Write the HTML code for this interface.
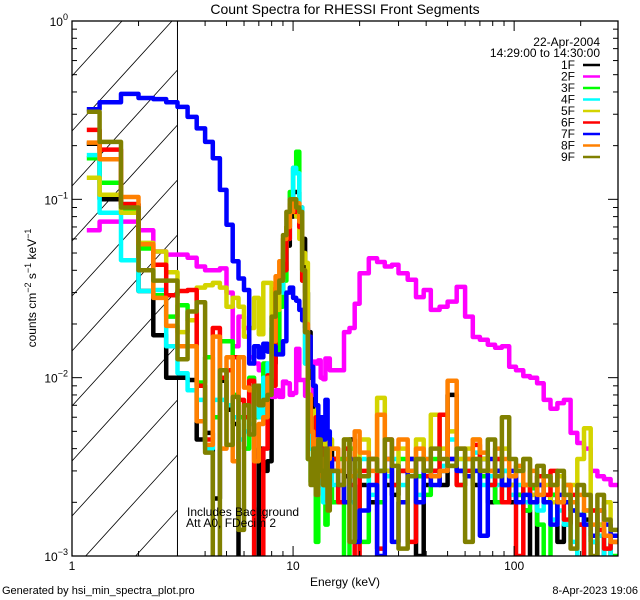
<!DOCTYPE html>
<html><head><meta charset="utf-8"><style>
html,body{margin:0;padding:0;background:#fff;overflow:hidden;width:640px;height:600px;}
svg{display:block;font-family:"Liberation Sans",sans-serif;}
</style></head><body>
<svg id="chart" width="640" height="600" viewBox="0 0 640 600" xmlns="http://www.w3.org/2000/svg">
<rect width="640" height="600" fill="#fff"/>
<defs><clipPath id="pc"><rect x="72" y="21" width="546" height="535"/></clipPath></defs>
<text x="345" y="14" font-size="14" text-anchor="middle">Count Spectra for RHESSI Front Segments</text>
<g id="hatch" clip-path="url(#pc)"></g>
<g id="series" clip-path="url(#pc)"></g>
<g id="axes"></g>
<text x="600" y="46" font-size="12" text-anchor="end">22-Apr-2004</text>
<text x="600" y="57" font-size="12" text-anchor="end">14:29:00 to 14:30:00</text>
<g id="legend"></g>
<text x="187" y="516" font-size="12">Includes Background</text>
<text x="186" y="527" font-size="12">Att A0, FDecim 2</text>
<text x="345" y="586" font-size="12" text-anchor="middle">Energy (keV)</text>
<text transform="translate(36,288) rotate(-90)" font-size="12" text-anchor="middle">counts cm<tspan dy="-5" font-size="9">−2</tspan><tspan dy="5"> s</tspan><tspan dy="-5" font-size="9">−1</tspan><tspan dy="5"> keV</tspan><tspan dy="-5" font-size="9">−1</tspan></text>
<text x="2" y="594" font-size="11">Generated by hsi_min_spectra_plot.pro</text>
<text x="638" y="594" font-size="11" text-anchor="end">8-Apr-2023 19:06</text>
</svg>
<script>
const edges=[1.1667,1.3333,1.6667,2,2.3333,2.6667,3,3.3333,3.6667,4,4.3333,4.6667,5,5.3333,5.6667,6,6.3333,6.6667,7,7.3333,7.6667,8,8.3333,8.6667,9,9.3333,9.6667,10,10.3333,10.6667,11,11.3333,11.6667,12,12.3333,12.6667,13,13.3333,13.6667,14,14.3333,14.6667,15,16,17,18,19,20,22,24,26,28,30,33,36,39,42,46,50,55,60,65,70,76,82,88,95,102,110,118,127,136,146,157,168,180,193,207,222,238,255,273,295];
const seriesNames=["1F","2F","3F","4F","5F","6F","7F","8F","9F"];
const seriesColors=["#000000","#ff00ff","#00ff00","#00ffff","#d4d400","#ff0000","#0000ff","#ff8000","#808000"];
const s1F=[.205,.10,.094,.0306,.0173,.010,.010,.0097,.0045,.0049,.0021,.0096,.0066,.0055,0,0,.0008,0,.004,.003,.0034,.012,.016,.030,.040,.055,.080,.11,.11,.09,.06,.03,.018,.010,.006,.004,.005,.003,.0045,.0025,.003,.004,
.0035,.002,.0028,.0045,.0012,.0025,.002,.003,.0025,.0022,.003,.0035,.001,.0025,.003,.0025,.008,.003,.0028,.0025,.0035,.002,.003,.0025,.002,.0022,.0018,.0008,.0025,.002,.0022,.0012,.0015,.002,.0015,.0016,.0012,.0009,.0013,.0008];
const s2F=[.067,.075,.075,.067,.051,.049,.049,.047,.042,.040,.040,.041,.030,.015,.022,.019,.013,.012,.011,.011,.010,.0078,.0085,.0078,.0095,.0093,.0080,.0082,.0145,.0097,.0097,.0079,.0078,.0080,.0123,.0120,.0125,.0100,.0098,.0128,.0128,.011,
.011,.011,.018,.019,.026,.0385,.0467,.0445,.042,.043,.0385,.0354,.0283,.031,.024,.025,.0267,.0323,.022,.0169,.0163,.0153,.0147,.015,.0115,.011,.0102,.0100,.0093,.0075,.0067,.0072,.0075,.0049,.0043,.004,.0030,.0028,.0027,.0025];
const s3F=[.17,.124,.088,.053,.029,.022,.0255,.021,.0094,.013,.006,.016,.016,.008,.006,.004,.010,.006,.009,.012,.010,.019,.014,.025,.035,.070,.11,.15,.185,.08,.035,.012,.0035,.0026,.0045,.0012,.0035,.0025,.003,.0015,.0035,.0025,
.002,.0035,.0009,.004,.003,.0012,.0035,.002,.003,.0025,.0035,.003,.0028,.0022,.0035,.003,.0032,.0025,.0035,.003,.0028,.0025,.002,.003,.0025,.0022,.0018,.0024,.0015,.0008,.0022,.002,.0025,.0018,.0009,.0018,.0012,.0015,.0011,.001];
const s4F=[.177,.084,.0456,.0306,.031,.015,.0106,.0085,.0075,.004,.0075,.0075,.007,.006,.0045,.005,.0055,.008,.006,.010,.012,.02,.025,.03,.045,.06,.10,.15,.14,.09,.04,.012,.006,.004,.0035,.003,.0025,.003,.002,.0028,.002,.003,
.0025,.003,.0035,.002,.0028,.0035,.0022,.003,.0028,.0035,.0025,.003,.0022,.0035,.0028,.0032,.0045,.0035,.003,.0038,.0025,.0028,.0025,.003,.0022,.0025,.002,.0022,.0018,.002,.0016,.0018,.0015,.0012,.0008,.0015,.0012,.0013,.0009,.0012];
const s5F=[.132,.106,.084,.057,.051,.039,.018,.021,.032,.033,.034,.032,.025,.028,.025,.017,.019,.028,.0175,.034,.034,.020,.024,.035,.05,.07,.09,.09,.08,.06,.05,.044,.006,.005,.0065,.003,.004,.0035,.005,.003,.004,.0045,
.004,.003,.0045,.0035,.003,.0045,.0035,.0077,.003,.0025,.004,.0035,.0045,.003,.0062,.004,.005,.0035,.004,.0045,.0035,.003,.0035,.004,.0025,.003,.0035,.0022,.0028,.0025,.002,.0028,.0022,.0025,.0035,.0052,.0018,.0015,.002,.0013];
const s6F=[.245,.19,.094,.056,.043,.029,.0306,.031,.009,.0045,.019,.010,.011,.013,.0075,.006,.0096,.0005,.0005,.004,.0103,.009,.032,.036,.04,.06,.094,.085,.09,.07,.035,.018,.008,.005,.0045,.006,.003,.004,.0025,.0035,.002,.003,
.0035,.002,.004,.0025,.0009,.003,.0035,.0011,.0045,.0025,.003,.0012,.0035,.0028,.003,.0062,.0035,.0025,.003,.0042,.003,.0025,.0035,.002,.0028,.0010,.0025,.002,.0028,.0022,.003,.002,.0016,.0022,.0015,.0009,.0018,.0014,.0011,.0012];
const s7F=[.32,.35,.39,.37,.365,.35,.33,.29,.25,.21,.17,.113,.072,.045,.036,.031,.012,.015,.013,.0155,.014,.015,.0135,.0135,.016,.030,.032,.028,.027,.024,.021,.019,.017,.0115,.009,.007,.004,.006,.0045,.0075,.005,.0035,
.003,.0025,.002,.0035,.0012,.0018,.0025,.001,.0035,.0012,.002,.0035,.002,.003,.0025,.003,.0035,.003,.0028,.003,.0013,.0035,.003,.0025,.003,.002,.0022,.002,.0025,.002,.0015,.0022,.002,.0018,.0017,.0015,.0013,.0018,.0015,.0013];
const s8F=[.208,.168,.103,.056,.028,.0195,.015,.015,.0057,.0042,.017,.004,.013,.0034,.013,.0088,.0085,.0034,.0055,.006,.010,.016,.037,.045,.06,.07,.085,.10,.095,.075,.04,.02,.008,.005,.004,.0045,.0028,.0035,.003,.0025,.0035,.004,
.004,.003,.0035,.0028,.005,.0038,.003,.0062,.0035,.004,.0045,.003,.004,.0035,.0028,.003,.0096,.004,.0035,.0045,.0038,.003,.004,.0035,.0028,.0032,.0025,.003,.0022,.0028,.0025,.002,.0025,.002,.0022,.0018,.0015,.0018,.0013,.0012];
const s9F=[.31,.21,.09,.040,.035,.035,.0127,.0235,.0265,.0038,0,.011,.0042,.0078,.0014,.007,.0048,.009,.007,.0075,.008,.022,.03,.035,.063,.085,.10,.10,.09,.085,.04,.018,.0035,.0025,.004,.0022,.0045,.003,.0025,.004,.0018,.003,
.003,.0025,.0045,.0012,.0035,.0028,.0035,.003,.0045,.0032,.0011,.0028,.0035,.003,.004,.0035,.0032,.004,.0012,.0035,.003,.0045,.0028,.006,.0035,.003,.0035,.0025,.0032,.0028,.0025,.003,.0022,.0011,.0025,.0022,.001,.0022,.0016,.0014];
const seriesValues=[s1F,s2F,s3F,s4F,s5F,s6F,s7F,s8F,s9F];
const xTickMajors=[1,10,100];
const xTickLabels=["1","10","100"];
const yTickMajors=[1,0.1,0.01,0.001];
const yTickExps=["0","−1","−2","−3"];

const NS="http://www.w3.org/2000/svg";
const L=72,R=618,T=21,B=556,XMIN=1,XMAX=295,YMIN=1e-3,YMAX=1;
function xs(e){return L+(R-L)*(Math.log10(e)-Math.log10(XMIN))/(Math.log10(XMAX)-Math.log10(XMIN));}
function ys(v){if(!(v>0))return B+4;return Math.min(B+4,T+(B-T)*(Math.log10(YMAX)-Math.log10(v))/(Math.log10(YMAX)-Math.log10(YMIN)));}
function mk(tag,attrs,parent){const el=document.createElementNS(NS,tag);for(const k in attrs)el.setAttribute(k,attrs[k]);parent.appendChild(el);return el;}

// hatch
const hg=document.getElementById('hatch');
const hx2=xs(3);
for(let c=T-55*2;c<B+120;c+=55){
  const ln=mk('line',{x1:L,y1:c,x2:hx2,y2:c-1.1*(hx2-L),stroke:'#000','stroke-width':0.8},hg);
  
  
}
const vl=mk('line',{x1:hx2,y1:T,x2:hx2,y2:B,stroke:'#000','stroke-width':1},hg);



// series
const sg=document.getElementById('series');
seriesValues.forEach((vals,si)=>{
  let d='';
  for(let i=0;i<vals.length;i++){
    const x0=xs(edges[i]),x1=xs(edges[i+1]),y=ys(vals[i]);
    d+=(i===0?'M':'L')+x0.toFixed(1)+','+y.toFixed(1)+'L'+x1.toFixed(1)+','+y.toFixed(1);
  }
  const p=mk('path',{d:d,fill:'none',stroke:seriesColors[si],'stroke-width':4.5,'stroke-linejoin':'round'},sg);
  
  
});

// axes
const ag=document.getElementById('axes');
const frame=mk('rect',{x:L,y:T,width:R-L,height:B-T,fill:'none',stroke:'#000','stroke-width':1.3},ag);


for(let dec=0;dec<3;dec++){
  for(let m=1;m<10;m++){
    const e=m*Math.pow(10,dec);
    if(e>XMAX)break;
    const x=xs(e),len=(m===1)?10:5;
    const t1=mk('line',{x1:x,y1:B,x2:x,y2:B-len,stroke:'#000','stroke-width':1},ag);
    
    
    const t2=mk('line',{x1:x,y1:T,x2:x,y2:T+len,stroke:'#000','stroke-width':1},ag);
    
    
  }
}
xTickMajors.forEach((e,i)=>{
  const t=mk('text',{x:xs(e),y:B+14,'font-size':12,'text-anchor':'middle'},ag);
  t.textContent=xTickLabels[i];
  
  
});
for(let dec=-3;dec<0;dec++){
  for(let m=1;m<10;m++){
    const v=m*Math.pow(10,dec),y=ys(v),len=(m===1)?10:5;
    const t1=mk('line',{x1:L,y1:y,x2:L+len,y2:y,stroke:'#000','stroke-width':1},ag);
    
    
    const t2=mk('line',{x1:R,y1:y,x2:R-len,y2:y,stroke:'#000','stroke-width':1},ag);
    
    
  }
}
yTickMajors.forEach((v,i)=>{
  const t=mk('text',{x:L-4,y:ys(v)+5,'font-size':12,'text-anchor':'end'},ag);
  t.innerHTML='10<tspan dy="-6" font-size="9">'+yTickExps[i]+'</tspan>';
  
  
});

// legend
const lg=document.getElementById('legend');
seriesNames.forEach((n,i)=>{
  const y=65+i*11.5;
  const t=mk('text',{x:575,y:y+4,'font-size':12,'text-anchor':'end'},lg);
  t.textContent=n;
  
  
  const l=mk('line',{x1:583,y1:y,x2:600,y2:y,stroke:seriesColors[i],'stroke-width':2.5},lg);
  
  
});
</script>
</body></html>
